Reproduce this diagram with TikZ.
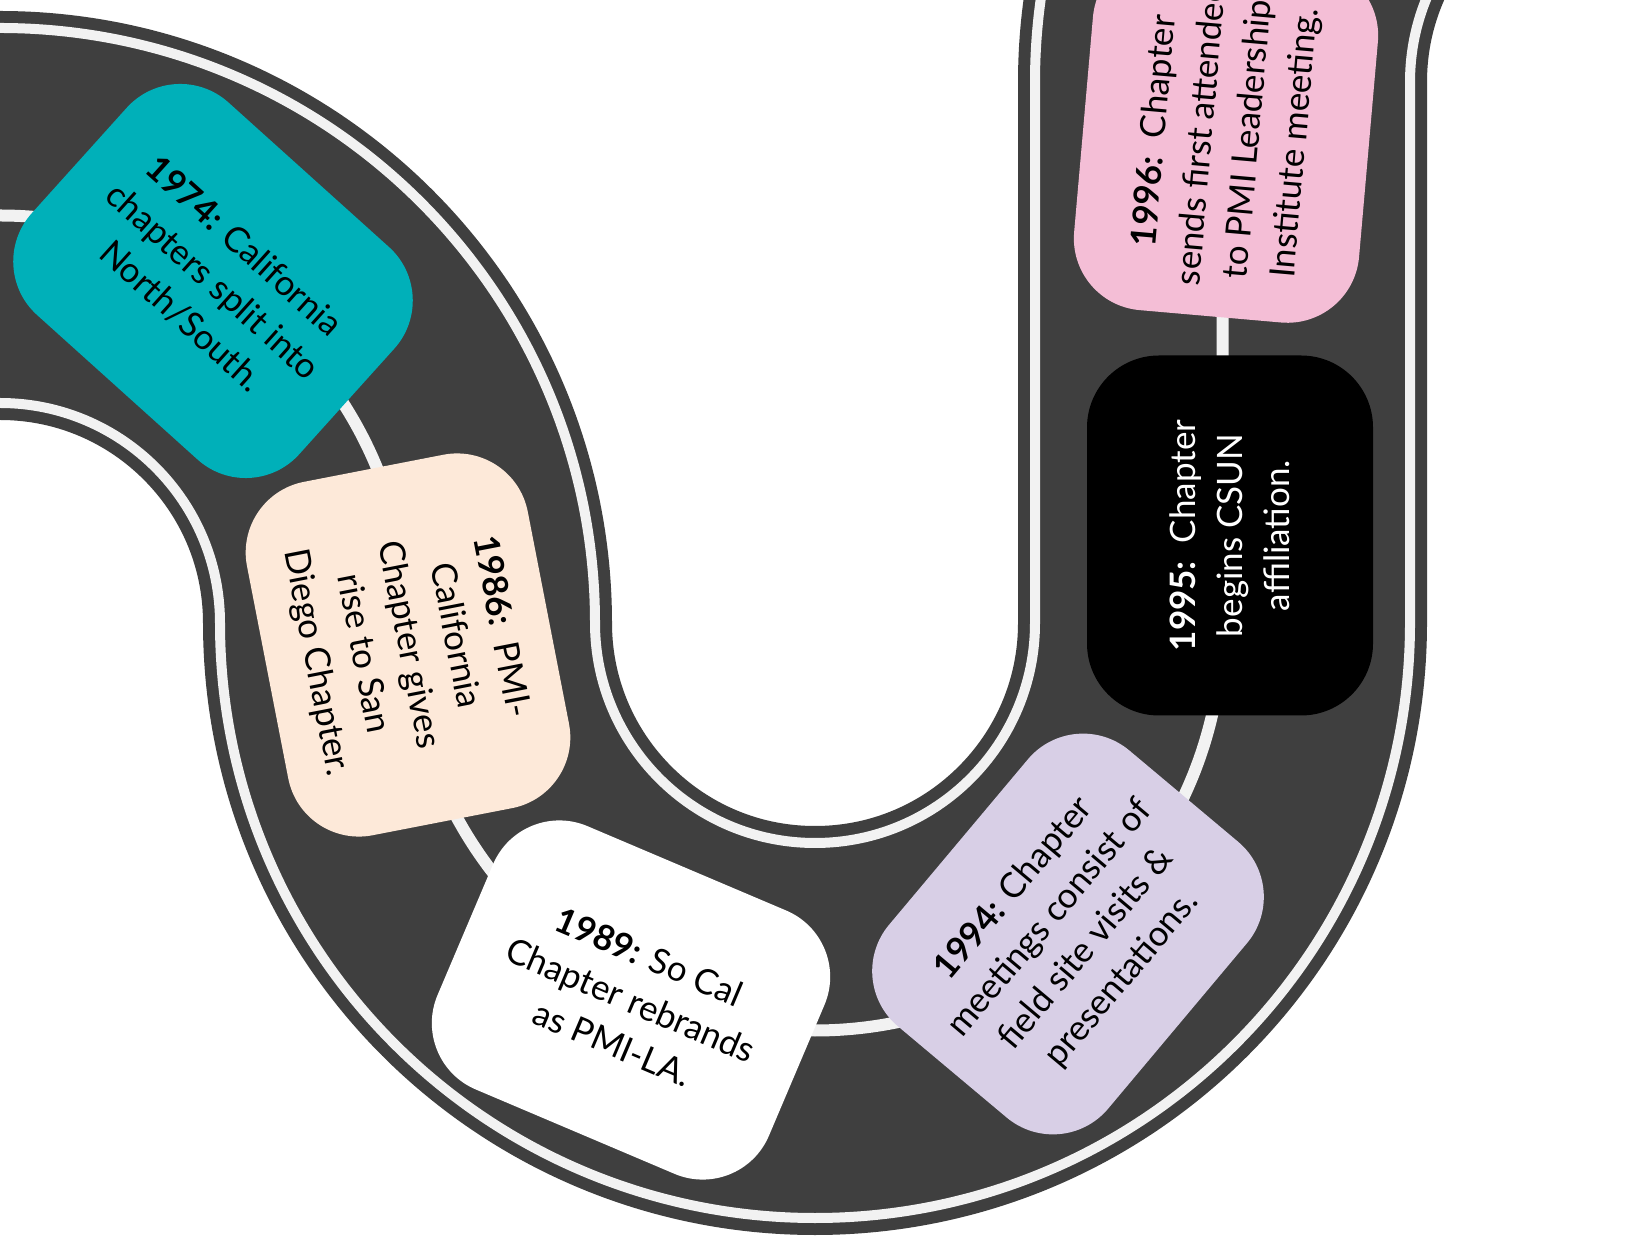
\documentclass[tikz,border=0pt]{standalone}
\usepackage{fontspec}
\setmainfont{Lato}
\definecolor{roadgrey}{HTML}{3F3F3F}
\definecolor{lanewhite}{HTML}{F2F2F2}
\definecolor{tealbox}{HTML}{00B0B9}
\definecolor{peachbox}{HTML}{FDE9D9}
\definecolor{lavbox}{HTML}{D8CFE6}
\definecolor{pinkbox}{HTML}{F4BED6}
\begin{document}
\begin{tikzpicture}[x=0.5pt,y=0.5pt,
  roadband/.style={draw=roadgrey, line width=204.5pt},
  edgeline/.style={draw=lanewhite, line width=5pt},
  centreline/.style={draw=lanewhite, line width=6pt},
  evt/.style={rounded corners=36pt, minimum width=180pt, minimum height=143pt,
    inner sep=0pt, align=center, font=\fontsize{17.5}{23.5}\selectfont, text=black}]
\useasboundingbox (0,0) rectangle (1632,1237);
\clip (0,0) rectangle (1632,1237);
\fill[white] (0,0) rectangle (1632,1237);
% road band
\draw[roadband] (-60,1021.5) -- (0,1021.5) arc[start angle=90,end angle=0,radius=407.5]
  arc[start angle=180,end angle=360,radius=407.5] -- (1222.5,1155)
  arc[start angle=180,end angle=90,radius=407.5];
% edge lines
\draw[edgeline] (-60,1209) -- (0,1209) arc[start angle=90,end angle=0,radius=595]
  arc[start angle=180,end angle=360,radius=220] -- (1035,1155)
  arc[start angle=180,end angle=90,radius=595];
\draw[edgeline] (-60,834) -- (0,834) arc[start angle=90,end angle=0,radius=220]
  arc[start angle=180,end angle=360,radius=595] -- (1410,1155)
  arc[start angle=180,end angle=90,radius=220];
% centre line
\draw[centreline] (-60,1021.5) -- (0,1021.5) arc[start angle=90,end angle=0,radius=407.5]
  arc[start angle=180,end angle=360,radius=407.5] -- (1222.5,1155)
  arc[start angle=180,end angle=90,radius=407.5];
% events
\node[evt, fill=tealbox, rotate=-42] (e1974) at (213,956)
  {\textbf{1974:} California\\chapters split into\\North/South.};
\node[evt, fill=peachbox, rotate=-79] (e1986) at (408,592)
  {\textbf{1986:}\ \ PMI-\\California\\Chapter gives\\rise to San\\Diego Chapter.};
\node[evt, fill=white, rotate=-23] (e1989) at (631,237)
  {\textbf{1989:} So Cal\\Chapter rebrands\\as PMI-LA.};
\node[evt, fill=lavbox, rotate=50] (e1994) at (1068,303)
  {\textbf{1994:} Chapter\\meetings consist of\\field site visits \&\\presentations.};
\node[evt, fill=black, text=white, rotate=90] (e1995) at (1230,701.5)
  {\textbf{1995:}\ \ Chapter\\begins CSUN\\affiliation.};
\node[evt, fill=pinkbox, rotate=85] (e1996) at (1226,1100)
  {\textbf{1996:}\ \ Chapter\\sends first attendee\\to PMI Leadership\\Institute meeting.};
\end{tikzpicture}
\end{document}
